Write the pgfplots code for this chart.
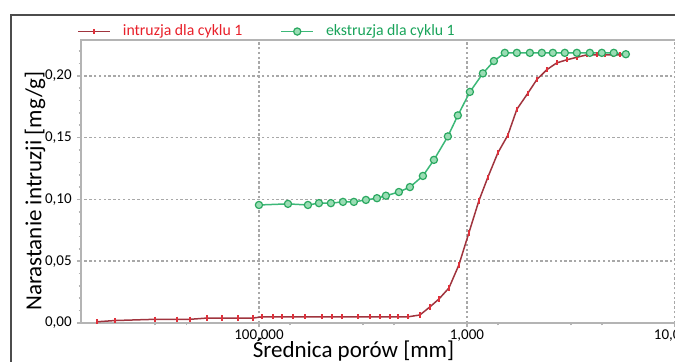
\documentclass[border=0pt]{standalone}
\usepackage{pgfplots}
\pgfplotsset{compat=1.18}
\usepackage{fontspec}
\setmainfont{Carlito}
\definecolor{redline}{HTML}{A0343E}
\definecolor{redmark}{HTML}{E0303A}
\definecolor{greenline}{HTML}{3CB878}
\definecolor{greenfill}{HTML}{9ADDB4}
\definecolor{greenedge}{HTML}{2AA860}
\definecolor{legred}{HTML}{E8202A}
\definecolor{leggreen}{HTML}{19A35A}
\definecolor{gridgray}{HTML}{A8A8A8}
\definecolor{axgray}{HTML}{B4B4B4}

% x = log10(diameter), y = value
\pgfplotstableread{
L v
3.558 0.001
3.385 0.002
3.000 0.003
2.788 0.003
2.663 0.003
2.500 0.004
2.356 0.004
2.202 0.004
2.058 0.004
1.971 0.005
1.865 0.005
1.779 0.005
1.673 0.005
1.558 0.005
1.394 0.005
1.298 0.005
1.202 0.005
1.048 0.005
0.933 0.005
0.837 0.005
0.740 0.005
0.663 0.005
0.567 0.005
0.452 0.0065
0.356 0.013
0.269 0.0194
0.173 0.0283
0.077 0.047
-0.019 0.0729
-0.115 0.0988
-0.202 0.118
-0.298 0.1377
-0.394 0.152
-0.481 0.173
-0.587 0.186
-0.673 0.197
-0.769 0.205
-0.865 0.2105
-0.962 0.213
-1.058 0.215
-1.154 0.217
-1.250 0.217
-1.327 0.217
-1.404 0.217
-1.471 0.217
-1.538 0.217
}\intrusion

\pgfplotstableread{
L v
2.000 0.0955
1.721 0.0964
1.529 0.0955
1.423 0.097
1.308 0.097
1.192 0.098
1.087 0.098
0.971 0.0996
0.865 0.101
0.779 0.103
0.654 0.106
0.548 0.110
0.423 0.119
0.317 0.132
0.183 0.151
0.087 0.168
-0.029 0.187
-0.154 0.202
-0.260 0.212
-0.365 0.2186
-0.481 0.2186
-0.606 0.2186
-0.721 0.2186
-0.827 0.2186
-0.942 0.2186
-1.058 0.2186
-1.183 0.2186
-1.298 0.2186
-1.413 0.2186
-1.529 0.2175
}\extrusion

\begin{document}
\begin{tikzpicture}
\begin{axis}[
  scale only axis, width=312.5pt, height=141.5pt,
  xmin=-2.3, xmax=3.712, x dir=reverse,
  ymin=0, ymax=0.229,
  axis line style={axgray, line width=1pt},
  xtick={2,0,-2},
  xticklabels={{100,000},{1,000},{10,000}},
  minor xtick={3,2.699,1.699,1,0.699,-0.301,-1,-1.301},
  ytick={0,0.05,0.10,0.15,0.20},
  minor ytick={0.01,0.02,0.03,0.04,0.06,0.07,0.08,0.09,0.11,0.12,0.13,0.14,0.16,0.17,0.18,0.19,0.21,0.22},
  tick align=outside,
  major tick length=2pt, minor tick length=1.2pt,
  tick style={axgray, line width=0.8pt},
  xtick pos=bottom, ytick pos=left,
  grid=major,
  major grid style={gridgray, line width=0.8pt, dash pattern=on 1.2pt off 1.2pt},
  /pgf/number format/use comma,
  /pgf/number format/fixed,
  /pgf/number format/fixed zerofill,
  /pgf/number format/precision=2,
  /pgf/number format/assume math mode=true,
  ticklabel style={font=\fontsize{7.5}{8}\selectfont, text=black},
  yticklabel style={inner sep=0pt, xshift=-2.5pt},
  xticklabel style={inner sep=0pt, yshift=-1pt},
  xlabel={Średnica porów [mm]},
  ylabel={Narastanie intruzji [mg/g]},
  label style={font=\fontsize{11.5}{13}\selectfont},
  xlabel style={at={(axis description cs:0.436,-0.095)}, anchor=center},
  ylabel style={at={(axis description cs:-0.0736,0.466)}, anchor=center},
  legend columns=2,
  legend style={at={(axis description cs:-0.016,1.03)}, anchor=west, draw=none, fill=none,
    font=\fontsize{7.9}{9}\selectfont, /tikz/every even column/.append style={column sep=17pt}},
  legend image code/.code={\draw[#1] (0pt,0pt) -- (16pt,0pt); \draw[#1, only marks] plot coordinates {(8pt,0pt)}; \path (20pt,0pt);},
]
\addplot[redline, line width=0.75pt, mark=|, mark size=1.3pt, mark options={redmark, line width=0.7pt}] table[x=L,y=v] {\intrusion};
\addlegendentry{\textcolor{legred}{intruzja dla cyklu 1}}
\addplot[greenline, line width=0.75pt, mark=*, mark size=1.8pt, mark options={draw=greenedge, fill=greenfill, line width=0.6pt}] table[x=L,y=v] {\extrusion};
\addlegendentry{\textcolor{leggreen}{ekstruzja dla cyklu 1}}
\coordinate (BL) at (axis cs:3.712,0);
\end{axis}
\pgfresetboundingbox
\path[use as bounding box] ([xshift=-40.5pt,yshift=-19pt]BL) rectangle ++(337.5pt,180.5pt);
\draw[line width=0.8pt, black!70] ([xshift=-35pt,yshift=-40pt]BL) -- ([xshift=-35pt,yshift=154pt]BL) -- ([xshift=320pt,yshift=154pt]BL);
\end{tikzpicture}
\end{document}
